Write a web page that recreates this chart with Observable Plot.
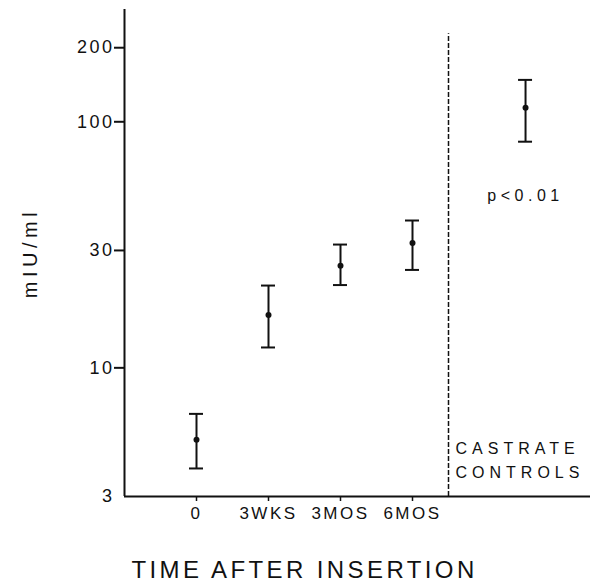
<!DOCTYPE html>
<html><head><meta charset="utf-8">
<script src="https://cdn.jsdelivr.net/npm/d3@7"></script>
<script src="https://cdn.jsdelivr.net/npm/@observablehq/plot@0.6"></script>
<style>body{margin:0;background:#fff}</style>
</head><body><div id="chart"></div>
<script>
const categories = ["0", "3WKS", "3MOS", "6MOS"];
const means = [5.1, 16.4, 26.0, 32.2];
const upper = [6.5, 21.6, 31.7, 39.7];
const lower = [3.9, 12.1, 21.7, 25.0];
const controlLabel = ["CASTRATE", "CONTROLS"];
const controlMean = 114;
const controlUpper = 148;
const controlLower = 83;
const yTicks = [3, 10, 30, 100, 200];
const pValue = "p<0.01";
const yLabel = "mIU/ml";
const xLabel = "TIME AFTER INSERTION";

const W = 590, H = 584, mL = 124, mR = 0, mT = 9, mB = 88;
const slotPx = 72;
const xMax = (W - mL - mR) / slotPx;
const cap = 7 / slotPx;
const slotOf = i => i + 1;
const dividerSlot = categories.length + 0.5;
const controlSlot = categories.length + 1.57;

const rows = categories.map((c, i) => ({cat: c, x: slotOf(i), mean: means[i], hi: upper[i], lo: lower[i]}));
rows.push({cat: "control", x: controlSlot, mean: controlMean, hi: controlUpper, lo: controlLower});

const ink = "#111";
const chart = Plot.plot({
  width: W, height: H,
  marginLeft: mL, marginRight: mR, marginTop: mT, marginBottom: mB,
  x: {domain: [0, xMax]},
  y: {type: "log", domain: [3, 286]},
  style: {fontFamily: "'Liberation Sans', Arial, sans-serif", color: ink, background: "#fff"},
  marks: [
    Plot.ruleY([3], {stroke: ink, strokeWidth: 2}),
    Plot.ruleX([0], {stroke: ink, strokeWidth: 2}),
    Plot.axisY({ticks: yTicks, tickSize: 0, tickPadding: 10, fontSize: 18, tickFormat: d => String(d), label: null}),
    Plot.axisY({ticks: yTicks.slice(1), tickSize: 10, text: null, label: null, strokeWidth: 2}),
    Plot.axisX({ticks: categories.map((c, i) => slotOf(i)), tickFormat: v => categories[v - 1], tickSize: 5, tickPadding: 5, fontSize: 17, label: null, strokeWidth: 1.5}),
    Plot.ruleX([dividerSlot], {y1: 3, y2: 228, stroke: ink, strokeDasharray: "5,2", strokeWidth: 1.5}),
    Plot.ruleX(rows, {x: "x", y1: "lo", y2: "hi", stroke: ink, strokeWidth: 2}),
    Plot.ruleY(rows, {y: "hi", x1: d => d.x - cap, x2: d => d.x + cap, stroke: ink, strokeWidth: 2}),
    Plot.ruleY(rows, {y: "lo", x1: d => d.x - cap, x2: d => d.x + cap, stroke: ink, strokeWidth: 2}),
    Plot.dot(rows, {x: "x", y: "mean", r: 3, fill: ink, stroke: null}),
    Plot.text([pValue], {x: controlSlot, frameAnchor: "top", lineAnchor: "middle", dy: 186, fontSize: 16, fill: ink}),
    Plot.text([controlLabel.join("\n")], {x: dividerSlot, textAnchor: "start", lineAnchor: "middle", dx: 7, frameAnchor: "bottom", dy: -38, lineHeight: 1.5, fontSize: 16, fill: ink}),
    Plot.text([xLabel], {x: (slotOf(0) + slotOf(categories.length - 1)) / 2, frameAnchor: "bottom", lineAnchor: "middle", dy: 74, fontSize: 24, fill: ink}),
    Plot.text([yLabel], {frameAnchor: "left", textAnchor: "middle", lineAnchor: "middle", dx: -94, rotate: -90, fontSize: 20, fill: ink})
  ]
});
// letter spacing to mimic the wide-tracked lettering of the original
const spacing = new Map([
  [xLabel, 3.4], [yLabel, 4.5], [pValue, 4.5],
  [controlLabel.join(""), 5]
]);
const tickTexts = new Set([...categories, ...yTicks.map(String)]);
d3.select(chart).selectAll("text").each(function () {
  const t = this.textContent.trim();
  if (spacing.has(t)) this.setAttribute("letter-spacing", spacing.get(t));
  else if (tickTexts.has(t)) this.setAttribute("letter-spacing", 2.5);
});
document.getElementById("chart").appendChild(chart);
</script>
</body></html>
